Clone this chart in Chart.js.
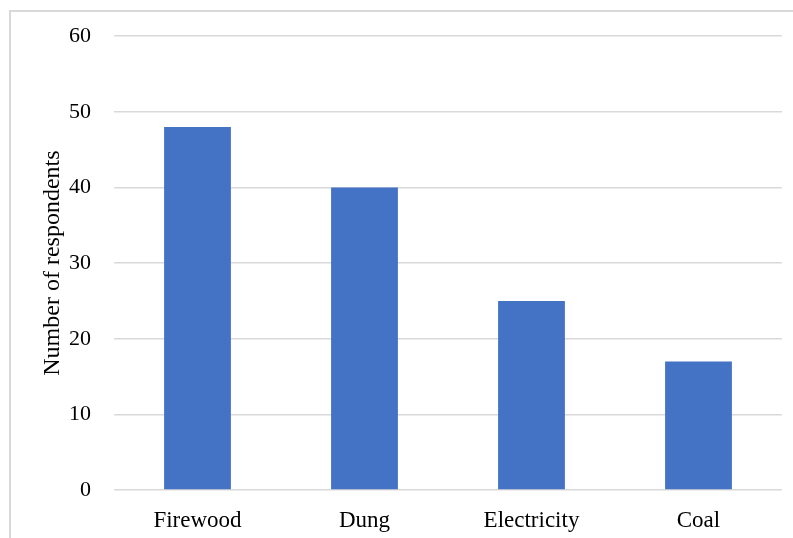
<!DOCTYPE html>
<html>
<head>
<meta charset="utf-8">
<script src="https://cdn.jsdelivr.net/npm/chart.js@4"></script>
<style>
  html, body { margin: 0; padding: 0; background: #ffffff; }
  #wrap { position: relative; width: 793px; height: 538px; overflow: hidden; }
  #frame { position: absolute; left: 9px; top: 10px; width: 900px; height: 700px;
           border-left: 2px solid #d9d9d9; border-top: 2px solid #d9d9d9; box-sizing: border-box; }
  #c { position: absolute; left: 0; top: 0; }
</style>
</head>
<body>
<div id="wrap">
  <div id="frame"></div>
  <canvas id="c" width="793" height="538"></canvas>
</div>
<script>
// Household cooking fuel used by respondents
const fuelTypes = ['Firewood', 'Dung', 'Electricity', 'Coal'];
const respondents = [48, 40, 25, 17];
const yTicks = [0, 10, 20, 30, 40, 50, 60];

const serif = 'Liberation Serif, "Times New Roman", serif';

new Chart(document.getElementById('c'), {
  type: 'bar',
  data: {
    labels: fuelTypes,
    datasets: [{
      data: respondents,
      backgroundColor: '#4472C4',
      barPercentage: 0.4,
      categoryPercentage: 1.0
    }]
  },
  options: {
    responsive: false,
    animation: false,
    layout: { padding: { top: 35, right: 11, left: 0, bottom: 0 } },
    plugins: { legend: { display: false }, tooltip: { enabled: false } },
    scales: {
      x: {
        grid: { display: false, drawTicks: false },
        border: { display: false },
        ticks: { color: '#000', font: { family: serif, size: 23 }, padding: 17 },
        afterFit(s) { s.height = 48; }
      },
      y: {
        min: 0,
        max: 60,
        afterBuildTicks(s) { s.ticks = yTicks.map(v => ({ value: v })); },
        grid: { color: '#d9d9d9', lineWidth: 1.5, drawTicks: false },
        border: { display: false },
        ticks: { color: '#000', font: { family: serif, size: 22 }, padding: 23 },
        title: {
          display: true,
          text: 'Number of respondents',
          color: '#000',
          font: { family: serif, size: 24 },
          padding: { top: 38, bottom: 0 }
        },
        afterFit(s) { s.width = 114; }
      }
    }
  }
});
</script>
</body>
</html>
